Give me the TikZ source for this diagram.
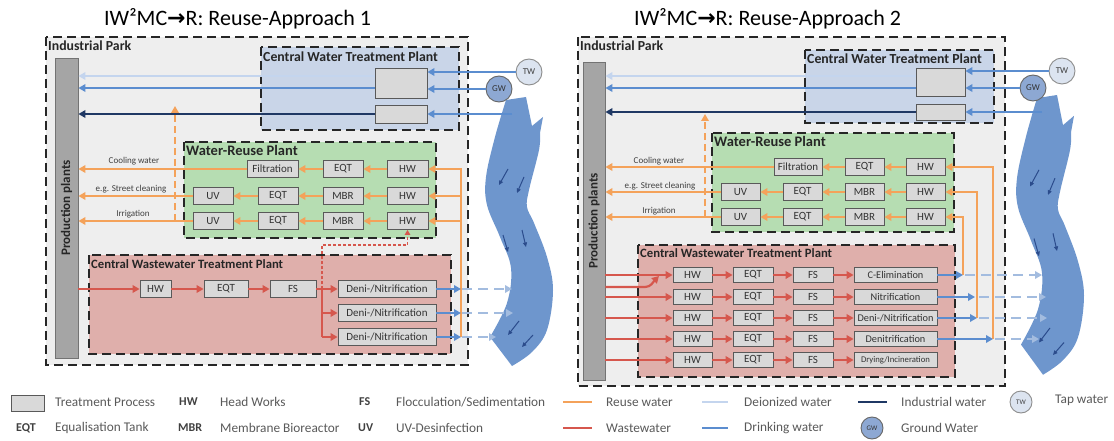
\documentclass[tikz,border=0pt]{standalone}
\usepackage{fontspec}
\setmainfont{Carlito}
\newfontfamily\dejavu{DejaVu Sans}
\usetikzlibrary{arrows.meta}
\definecolor{orng}{HTML}{F4A25A}
\definecolor{wred}{HTML}{D6574D}
\definecolor{dblue}{HTML}{5B8DCF}
\definecolor{deion}{HTML}{C4D5EE}
\definecolor{indus}{HTML}{1F3864}
\definecolor{riverc}{HTML}{6E96CD}
\definecolor{rarrow}{HTML}{2B4C8C}
\definecolor{dashb}{HTML}{A3BCDF}
\definecolor{parkbg}{HTML}{EEEEEE}
\definecolor{cwtpbg}{HTML}{C9D5E8}
\definecolor{wrpbg}{HTML}{B6DDB2}
\definecolor{cwwbg}{HTML}{DFAFAB}
\definecolor{procbg}{HTML}{D9D9D9}
\definecolor{procbd}{HTML}{595959}
\definecolor{ppbg}{HTML}{A5A5A5}
\definecolor{twbg}{HTML}{DCE4F0}
\definecolor{gwbg}{HTML}{8DA8D3}
\definecolor{legtxt}{HTML}{595959}
\newcommand\myriver{%
  \fill[riverc] (0,0) -- plot[smooth,tension=0.6] coordinates {(-20,3) (-31,40) (-40,80) (-39,108) (-26,140) (-15,171) (-19,206) (-36,240)}
    -- plot[smooth,tension=0.6] coordinates {(-14,269) (6,255) (21,233) (27,193) (21,160) (8,126) (1,110) (3,93) (13,53) (14,36)}
    -- (17,20) -- (6,29) -- cycle;
  \draw[rarr] (-18,72) -- (-27,88);
  \draw[rarr] (-2,80) -- (-9,96);
  \draw[rarr] (-23,138) -- (-18,155);
  \draw[rarr] (-4,133) -- (0,150);
  \draw[rarr] (-7,224) -- (-18,238);
  \draw[rarr] (7,238) -- (-4,250);
}
\tikzset{
  container/.style={draw=black!85, line width=1.6pt, dash pattern=on 9pt off 5pt},
  proc/.style={draw=procbd, fill=procbg, line width=0.8pt, inner sep=0pt, minimum height=17pt,
    font=\fontsize{11}{11}\selectfont, text=black!80},
  flow/.style={line width=2.2pt},
  tip/.style={-{Triangle[length=7pt,width=7.5pt]}},
  smalltip/.style={-{Triangle[length=5pt,width=5.5pt]}},
  rarr/.style={rarrow, line width=1pt, -{Triangle[length=4.5pt,width=4pt]}},
  plabel/.style={font=\bfseries\fontsize{13.8}{13.8}\selectfont, anchor=north west, inner sep=1pt, text=black!85},
  ppbar/.style={draw=black!55, fill=ppbg, line width=0.8pt, inner sep=0pt},
  pptext/.style={rotate=90, font=\bfseries\fontsize{13}{13}\selectfont, text=black!85},
  flab/.style={font=\fontsize{9}{9}\selectfont, text=black!75, inner sep=0pt},
  twc/.style={circle, draw=black!45, fill=twbg, line width=0.9pt, minimum size=26pt, inner sep=0pt,
    font=\fontsize{9}{9}\selectfont, text=black!75},
  gwc/.style={circle, draw=black!60, fill=gwbg, line width=0.9pt, minimum size=26pt, inner sep=0pt,
    font=\fontsize{9}{9}\selectfont, text=black!80},
  dashflow/.style={flow, dashb, dash pattern=on 10pt off 6pt},
  legt/.style={anchor=west, font=\fontsize{13.3}{13.3}\selectfont, text=legtxt, inner sep=0pt},
  legb/.style={anchor=west, font=\bfseries\fontsize{12}{12}\selectfont, text=black!75, inner sep=0pt},
  title/.style={anchor=west, font=\fontsize{22}{22}\selectfont, inner sep=0pt}
}
\begin{document}
\begin{tikzpicture}[x=1pt,y=-1pt]
\useasboundingbox (0,0) rectangle (1114,441);
% ================= LEFT PANEL =================
\node[title] (titleL) at (104,19) {IW²MC{\dejavu\bfseries →}R: Reuse-Approach 1};
\draw[container, fill=parkbg] (46,37) rectangle (468,365);
\node[plabel] (ipL) at (47,40) {Industrial Park};
\draw[container, fill=cwtpbg] (261,47) rectangle (459,130);
\node[plabel] (cwtpL) at (262,51) {Central Water Treatment Plant};
\draw[container, fill=wrpbg] (184,142) rectangle (436,238);
\node[plabel, font=\bfseries\fontsize{14.5}{14.5}\selectfont] (wrpL) at (185,144) {Water-Reuse Plant};
\draw[container, fill=cwwbg] (89,255) rectangle (451,354);
\node[plabel, font=\bfseries\fontsize{12.7}{12.7}\selectfont] (cwwL) at (90,258) {Central Wastewater Treatment Plant};
\node[ppbar, minimum width=23pt, minimum height=300pt] (ppL) at (66.5,208) {};
\node[pptext] (pptL) at (ppL) {Production plants};
\begin{scope}[shift={(526,97)}]\myriver\end{scope}
% CWTP
\node[proc, minimum width=52pt, minimum height=30pt] (cwL1) at (401,83) {};
\node[proc, minimum width=52pt, minimum height=18pt] (cwL2) at (401,114) {};
\node[twc] (twL) at (529,72) {TW};
\node[gwc] (gwL) at (499,89) {GW};
\coordinate (rvL) at (512,114);
\draw[flow, dblue, tip] (twL.west) -- (cwL1.east |- twL.west);
\draw[flow, dblue, tip] (gwL.west) -- (cwL1.east |- gwL.west);
\draw[flow, dblue, tip] (rvL) -- (cwL2.east);
\draw[flow, deion, tip] (cwL1.west |- 0,76) -- (ppL.east |- 0,76);
\draw[flow, dblue, tip] (cwL1.west |- 0,88) -- (ppL.east |- 0,88);
% orange dashed
\draw[flow, orng, dash pattern=on 7pt off 4pt, tip] (175,221) -- (175,106);
\draw[flow, indus, tip] (cwL2.west) -- (ppL.east |- cwL2.west);
% WRP
\node[proc, minimum width=51pt] (fL) at (272.5,169) {Filtration};
\node[proc, minimum width=40pt] (eL1) at (343,169) {EQT};
\node[proc, minimum width=41pt] (hL1) at (407.5,169) {HW};
\node[proc, minimum width=40pt] (uL2) at (213,196) {UV};
\node[proc, minimum width=40pt] (eL2) at (278,196) {EQT};
\node[proc, minimum width=40pt] (mL2) at (343,196) {MBR};
\node[proc, minimum width=41pt] (hL2) at (407.5,196) {HW};
\node[proc, minimum width=40pt] (uL3) at (213,221) {UV};
\node[proc, minimum width=40pt] (eL3) at (278,221) {EQT};
\node[proc, minimum width=40pt] (mL3) at (343,221) {MBR};
\node[proc, minimum width=41pt] (hL3) at (407.5,221) {HW};
\draw[flow, orng, tip] (hL1) -- (eL1);
\draw[flow, orng, tip] (eL1) -- (fL);
\draw[flow, orng, tip] (fL.west) -- (ppL.east |- fL.west);
\draw[flow, orng, tip] (hL2) -- (mL2);
\draw[flow, orng, tip] (mL2) -- (eL2);
\draw[flow, orng, tip] (eL2) -- (uL2);
\draw[flow, orng, tip] (uL2.west) -- (ppL.east |- uL2.west);
\draw[flow, orng, tip] (hL3) -- (mL3);
\draw[flow, orng, tip] (mL3) -- (eL3);
\draw[flow, orng, tip] (eL3) -- (uL3);
\draw[flow, orng, tip] (uL3.west) -- (ppL.east |- uL3.west);
\node[flab] (lcwL) at (134,161) {Cooling water};
\node[flab] (lscL) at (131,189) {e.g. Street cleaning};
\node[flab] (lirL) at (133,214) {Irrigation};
% orange feed
\draw[flow, orng, tip] (461,337) -- (461,169) -- (hL1.east);
\draw[flow, orng, tip] (461,196) -- (hL2.east);
\draw[flow, orng, tip] (461,221) -- (hL3.east);
% CWWTP
\node[proc, minimum width=31pt] (hwC) at (155.5,289) {HW};
\node[proc, minimum width=44pt] (eqC) at (226,289) {EQT};
\node[proc, minimum width=46pt] (fsC) at (293,289) {FS};
\node[proc, minimum width=98pt] (dn1) at (387,289) {Deni-/Nitrification};
\node[proc, minimum width=98pt] (dn2) at (387,313) {Deni-/Nitrification};
\node[proc, minimum width=98pt] (dn3) at (387,337) {Deni-/Nitrification};
\coordinate (jL) at (322,289);
\draw[flow, wred, tip] (ppL.east |- hwC) -- (hwC);
\draw[flow, wred, tip] (hwC) -- (eqC);
\draw[flow, wred, tip] (eqC) -- (fsC);
\draw[flow, wred, tip] (fsC) -- (dn1);
\draw[flow, wred] (jL) -- (jL |- dn3);
\draw[flow, wred, tip] (jL |- dn2) -- (dn2);
\draw[flow, wred, tip] (jL |- dn3) -- (dn3);
\draw[wred, line width=1.6pt, dash pattern=on 3pt off 2pt, smalltip] (jL) -- (322,245) -- (hL3.south |- 0,245) -- (hL3.south);
\draw[flow, dblue, tip] (dn1) -- (461,289);
\draw[flow, dblue, tip] (dn2) -- (461,313);
\draw[flow, dblue, tip] (dn3) -- (461,337);
\draw[dashflow, tip] (462,289) -- (512,289);
\draw[dashflow, tip] (462,313) -- (513,313);
\draw[dashflow, tip] (462,337) -- (496,337);
% ================= RIGHT PANEL =================
\node[title] (titleR) at (634,19) {IW²MC{\dejavu\bfseries →}R: Reuse-Approach 2};
\draw[container, fill=parkbg] (578,37) rectangle (1005,386);
\node[plabel] (ipR) at (579,40) {Industrial Park};
\draw[container, fill=cwtpbg] (805,50) rectangle (994,123);
\node[plabel] (cwtpR) at (806,53) {Central Water Treatment Plant};
\draw[container, fill=wrpbg] (712,133) rectangle (954,232);
\node[plabel, font=\bfseries\fontsize{14.5}{14.5}\selectfont] (wrpR) at (713,135) {Water-Reuse Plant};
\draw[container, fill=cwwbg] (638,245) rectangle (955,377);
\node[plabel, font=\bfseries\fontsize{12.7}{12.7}\selectfont] (cwwR) at (639,247) {Central Wastewater Treatment Plant};
\node[ppbar, minimum width=22pt, minimum height=318pt] (ppR) at (594,221) {};
\node[pptext] (pptR) at (ppR) {Production plants};
\begin{scope}[shift={(1057,95)}, yscale=1.04]\myriver\end{scope}
\node[proc, minimum width=49pt, minimum height=28pt] (cwR1) at (940.5,82) {};
\node[proc, minimum width=49pt, minimum height=16pt] (cwR2) at (940.5,112) {};
\node[twc] (twR) at (1062,71) {TW};
\node[gwc] (gwR) at (1033,88) {GW};
\coordinate (rvR) at (1042,112);
\draw[flow, dblue, tip] (twR.west) -- (cwR1.east |- twR.west);
\draw[flow, dblue, tip] (gwR.west) -- (cwR1.east |- gwR.west);
\draw[flow, dblue, tip] (rvR) -- (cwR2.east);
\draw[flow, deion, tip] (cwR1.west |- 0,76) -- (ppR.east |- 0,76);
\draw[flow, dblue, tip] (cwR1.west |- 0,88) -- (ppR.east |- 0,88);
\draw[flow, orng, dash pattern=on 7pt off 4pt, tip] (705,217) -- (705,114);
\draw[flow, indus, tip] (cwR2.west) -- (ppR.east |- cwR2.west);
% WRP right
\node[proc, minimum width=48pt] (fR) at (798,167) {Filtration};
\node[proc, minimum width=39pt] (eR1) at (864.5,167) {EQT};
\node[proc, minimum width=39pt] (hR1) at (925.5,167) {HW};
\node[proc, minimum width=39pt] (uR2) at (740.5,192) {UV};
\node[proc, minimum width=39pt] (eR2) at (802.5,192) {EQT};
\node[proc, minimum width=39pt] (mR2) at (864.5,192) {MBR};
\node[proc, minimum width=39pt] (hR2) at (925.5,192) {HW};
\node[proc, minimum width=39pt] (uR3) at (740.5,217) {UV};
\node[proc, minimum width=39pt] (eR3) at (802.5,217) {EQT};
\node[proc, minimum width=39pt] (mR3) at (864.5,217) {MBR};
\node[proc, minimum width=39pt] (hR3) at (925.5,217) {HW};
\draw[flow, orng, tip] (hR1) -- (eR1);
\draw[flow, orng, tip] (eR1) -- (fR);
\draw[flow, orng, tip] (fR.west) -- (ppR.east |- fR.west);
\draw[flow, orng, tip] (hR2) -- (mR2);
\draw[flow, orng, tip] (mR2) -- (eR2);
\draw[flow, orng, tip] (eR2) -- (uR2);
\draw[flow, orng, tip] (uR2.west) -- (ppR.east |- uR2.west);
\draw[flow, orng, tip] (hR3) -- (mR3);
\draw[flow, orng, tip] (mR3) -- (eR3);
\draw[flow, orng, tip] (eR3) -- (uR3);
\draw[flow, orng, tip] (uR3.west) -- (ppR.east |- uR3.west);
\node[flab] (lcwR) at (659,161) {Cooling water};
\node[flab] (lscR) at (660,186) {e.g. Street cleaning};
\node[flab] (lirR) at (659,211) {Irrigation};
% CWWTP right
\foreach \r/\y/\t in {1/275/{C-Elimination}, 2/297/{Nitrification}, 3/318/{Deni-/Nitrification}, 4/339/{Denitrification}}{
  \node[proc, minimum width=39pt, minimum height=15pt] (hw\r) at (692.5,\y) {HW};
  \node[proc, minimum width=40pt, minimum height=15pt] (eq\r) at (753,\y) {EQT};
  \node[proc, minimum width=40pt, minimum height=15pt] (fs\r) at (813,\y) {FS};
  \node[proc, minimum width=83pt, minimum height=15pt, font=\fontsize{10.3}{10.3}\selectfont] (ls\r) at (895.5,\y) {\t};
}
\node[proc, minimum width=39pt, minimum height=15pt] (hw5) at (692.5,360) {HW};
\node[proc, minimum width=40pt, minimum height=15pt] (eq5) at (753,360) {EQT};
\node[proc, minimum width=40pt, minimum height=15pt] (fs5) at (813,360) {FS};
\node[proc, minimum width=83pt, minimum height=15pt, font=\fontsize{8.7}{8.7}\selectfont] (ls5) at (895.5,360) {Drying/Incineration};
\foreach \r in {1,...,5}{
  \draw[flow, wred, tip] (ppR.east |- hw\r) -- (hw\r);
  \draw[flow, wred, tip] (hw\r) -- (eq\r);
  \draw[flow, wred, tip] (eq\r) -- (fs\r);
  \draw[flow, wred, tip] (fs\r) -- (ls\r);
}
\coordinate (jR) at (659,276);
\draw[flow, wred, tip] (ppR.east |- 0,287) -- (645,287) .. controls (651,287) and (653,282) .. (jR);
% orange feeds right
\draw[flow, orng, tip] (993,339) -- (993,167) -- (hR1.east);
\draw[flow, orng, tip] (977,318) -- (977,192) -- (hR2.east);
\draw[flow, orng, tip] (963,275) -- (963,217) -- (hR3.east);
\draw[flow, dblue, tip] (ls1) -- (963,275);
\draw[flow, dblue, tip] (ls2) -- (975,297);
\draw[flow, dblue, tip] (ls3) -- (977,318);
\draw[flow, dblue, tip] (ls4) -- (993,339);
\draw[dashflow, tip] (965,275) -- (1042,275);
\draw[dashflow, tip] (979,297) -- (1046,297);
\draw[dashflow, tip] (979,318) -- (1047,318);
\draw[dashflow, tip] (995,339) -- (1039,339);
% ================= LEGEND =================
\node[proc, minimum width=33pt, minimum height=16pt] (lgbox) at (27.5,403) {};
\node[legt] (lg1) at (55,402) {Treatment Process};
\node[legb] (lg2) at (179,402) {HW};
\node[legt] (lg3) at (220,402) {Head Works};
\node[legb] (lg4) at (359,402) {FS};
\node[legt] (lg5) at (396,402) {Flocculation/Sedimentation};
\node[legb] (lg6) at (16,428) {EQT};
\node[legt] (lg7) at (55,428) {Equalisation Tank};
\node[legb] (lg8) at (178,428) {MBR};
\node[legt] (lg9) at (220,428) {Membrane Bioreactor};
\node[legb] (lg10) at (358,428) {UV};
\node[legt] (lg11) at (396,428) {UV-Desinfection};
\coordinate (lr1a) at (563,402); \coordinate (lr1b) at (592,402);
\draw[flow, orng] (lr1a) -- (lr1b);
\node[legt] (lg12) at (606,402) {Reuse water};
\coordinate (lr2a) at (702,402); \coordinate (lr2b) at (728,402);
\draw[flow, deion] (lr2a) -- (lr2b);
\node[legt] (lg13) at (744,402) {Deionized water};
\coordinate (lr3a) at (858,402); \coordinate (lr3b) at (887,402);
\draw[flow, indus] (lr3a) -- (lr3b);
\node[legt] (lg14) at (901,402) {Industrial water};
\node[twc, minimum size=22pt, font=\fontsize{7}{7}\selectfont] (lgtw) at (1021,402) {TW};
\node[legt] (lg15) at (1055,400) {Tap water};
\coordinate (lr4a) at (563,428); \coordinate (lr4b) at (592,428);
\draw[flow, wred] (lr4a) -- (lr4b);
\node[legt] (lg16) at (606,428) {Wastewater};
\coordinate (lr5a) at (702,428); \coordinate (lr5b) at (728,428);
\draw[flow, dblue] (lr5a) -- (lr5b);
\node[legt] (lg17) at (744,428) {Drinking water};
\node[gwc, minimum size=22pt, font=\fontsize{7}{7}\selectfont] (lggw) at (872,428) {GW};
\node[legt] (lg18) at (901,428) {Ground Water};
\end{tikzpicture}
\end{document}
